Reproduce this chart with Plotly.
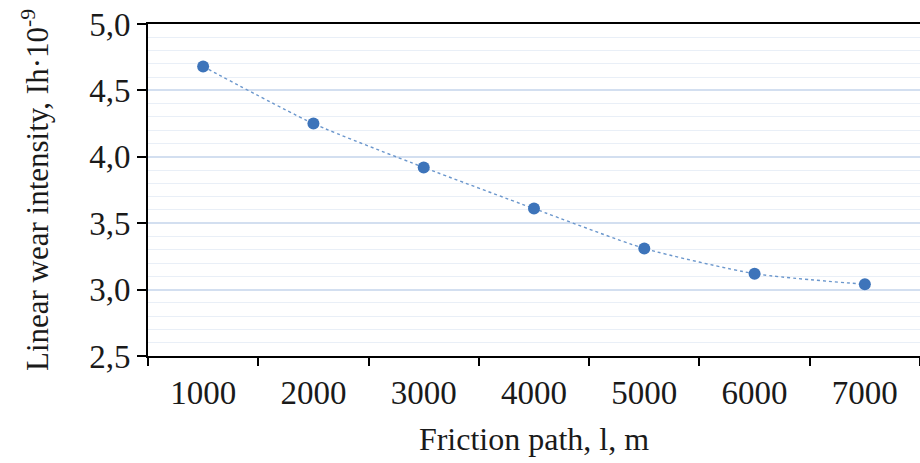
import plotly.graph_objects as go

categories = ["1000", "2000", "3000", "4000", "5000", "6000", "7000"]
wear = [4.68, 4.25, 3.92, 3.61, 3.31, 3.12, 3.04]
y_ticks = [2.5, 3.0, 3.5, 4.0, 4.5, 5.0]

FONT = "Liberation Serif"
FS = 33

fig = go.Figure()
fig.add_trace(go.Scatter(
    x=categories, y=wear, mode="lines+markers",
    line=dict(color="#6a96cc", width=1.4, dash="dot", shape="spline", smoothing=0.6),
    marker=dict(color="#3d74ba", size=12),
    showlegend=False,
))

fig.update_layout(
    width=920, height=463,
    margin=dict(l=148, r=0, t=24, b=107),
    paper_bgcolor="white", plot_bgcolor="white",
    separators=", ",
    font=dict(family=FONT, size=FS, color="#1a1a1a"),
    xaxis=dict(
        type="category", range=[-0.5, 6.5],
        tickson="boundaries", ticks="outside", ticklen=8, tickwidth=2, tickcolor="black",
        showline=True, linecolor="black", linewidth=2, mirror=True,
        showgrid=False, zeroline=False, ticklabelstandoff=6,
        tickfont=dict(family=FONT, size=FS),
        title=dict(text="Friction path, l, m", font=dict(family=FONT, size=32), standoff=18),
    ),
    yaxis=dict(
        range=[2.5, 5.0], tickvals=y_ticks, tickformat=".1f",
        ticks="outside", ticklen=9, tickwidth=2, tickcolor="black",
        showline=True, linecolor="black", linewidth=2,
        showgrid=True, gridcolor="#d3dff0", gridwidth=1.5,
        minor=dict(dtick=0.1, showgrid=True, gridcolor="#e9eff7", gridwidth=1),
        zeroline=False,
        tickfont=dict(family=FONT, size=FS),
        title=dict(text="Linear wear intensity, Ih·10<sup>-9</sup>", font=dict(family=FONT, size=31), standoff=31),
    ),
)

fig.write_html("out.html")
